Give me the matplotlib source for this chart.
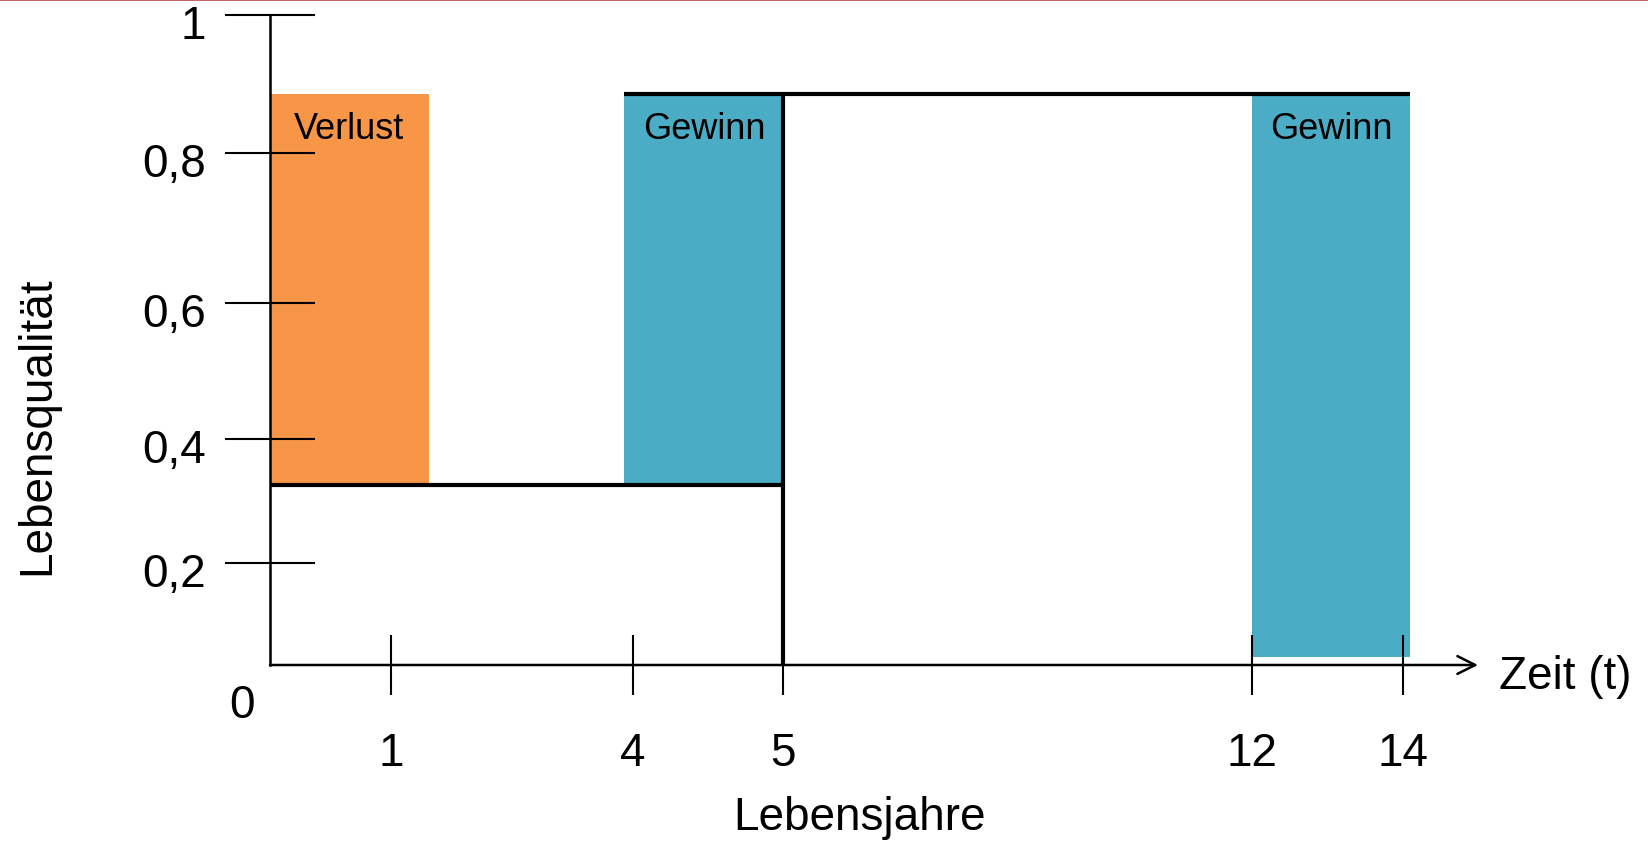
import matplotlib
matplotlib.use('Agg')
import matplotlib.pyplot as plt
from matplotlib.lines import Line2D
import numpy as np

plt.rcParams['font.family'] = ['Liberation Sans', 'DejaVu Sans']

# data
x_ticks = [1, 4, 5, 12, 14]
y_ticks = [0.2, 0.4, 0.6, 0.8, 1.0]
y_tick_labels = ['0,2', '0,4', '0,6', '0,8', '1']

block_labels = ['Verlust', 'Gewinn', 'Gewinn']
block_start = [0, 3.9, 12]
block_end = [1.47, 5, 14.1]
block_low = [0.325, 0.325, 0.015]
block_high = [0.885, 0.885, 0.885]
block_colors = ['#f79646', '#4bacc6', '#4bacc6']

low_x = [0, 5]
low_y = [0.325, 0.325]
drop_x = [5, 5]
drop_y = [0.0, 0.885]
high_x = [3.9, 14.1]
high_y = [0.885, 0.885]

# the schematic axes are not evenly spaced: piecewise linear scales
X_SRC = [0, 1, 4, 5, 12, 14]
X_DST = [0, 121, 363, 514, 983, 1134]
Y_SRC = [0, 0.2, 0.4, 0.6, 0.8, 1.0]
Y_DST = [0, 102, 226, 362, 512, 650]


def piecewise(src, dst):
    src = np.asarray(src, float)
    dst = np.asarray(dst, float)
    lo_slope = (dst[1] - dst[0]) / (src[1] - src[0])
    hi_slope = (dst[-1] - dst[-2]) / (src[-1] - src[-2])

    def f(v):
        v = np.asarray(v, float)
        out = np.interp(v, src, dst)
        out = np.where(v < src[0], dst[0] + (v - src[0]) * lo_slope, out)
        out = np.where(v > src[-1], dst[-1] + (v - src[-1]) * hi_slope, out)
        return out
    return f


fx, fx_inv = piecewise(X_SRC, X_DST), piecewise(X_DST, X_SRC)
fy, fy_inv = piecewise(Y_SRC, Y_DST), piecewise(Y_DST, Y_SRC)

W, H = 1649, 845
fig = plt.figure(figsize=(W / 100, H / 100), dpi=100)
ax = fig.add_axes([270 / W, (H - 666) / H, (1478 - 270) / W, (666 - 15.7) / H])
ax.set_xscale('function', functions=(fx, fx_inv))
ax.set_yscale('function', functions=(fy, fy_inv))
ax.set_xlim(0, 15)
ax.set_ylim(0, 1)

for s in ['top', 'right', 'bottom']:
    ax.spines[s].set_visible(False)
ax.spines['left'].set_linewidth(1.8)
ax.spines['left'].set_bounds(0, 1)

# blocks
for lab, x0, x1, y0, y1, c in zip(block_labels, block_start, block_end, block_low, block_high, block_colors):
    ax.bar(x0, y1 - y0, width=x1 - x0, bottom=y0, align='edge', color=c, lw=0, zorder=1)
    xm = float(fx_inv((fx(x0) + fx(x1)) / 2))
    ax.annotate(lab, xy=(xm, y1), xytext=(0, -25), textcoords='offset points',
                ha='center', va='center', fontsize=26, zorder=4)

ax.plot(low_x, low_y, color='black', lw=3, solid_capstyle='butt', zorder=3)
ax.plot(drop_x, drop_y, color='black', lw=3, solid_capstyle='butt', zorder=3)
ax.plot(high_x, high_y, color='black', lw=3, solid_capstyle='butt', zorder=3)

# x axis with arrow
ax.annotate('', xy=(15, 0), xytext=(0, 0),
            arrowprops=dict(arrowstyle='->', lw=1.8, mutation_scale=32, shrinkA=0, shrinkB=0, color='black'),
            annotation_clip=False, zorder=2)
ax.annotate('Zeit (t)', xy=(15, 0), xytext=(15, -8), textcoords='offset points',
            ha='left', va='center', fontsize=33, annotation_clip=False)

ax.set_xticks(x_ticks)
ax.set_xticklabels([str(t) for t in x_ticks])
ax.tick_params(axis='x', direction='inout', length=43, width=1.5, pad=26, labelsize=33)
ax.xaxis.set_minor_locator(plt.NullLocator())

ax.set_yticks(y_ticks)
ax.set_yticklabels([])
ax.tick_params(axis='y', direction='inout', length=65, width=1.5)
ax.yaxis.set_minor_locator(plt.NullLocator())
for v, lab in zip(y_ticks, y_tick_labels):
    ax.annotate(lab, xy=(0, v), xytext=(-46, -8), textcoords='offset points',
                ha='right', va='center', fontsize=33, annotation_clip=False)
ax.annotate('0', xy=(0, 0), xytext=(-20, -29), textcoords='offset points',
            ha='center', va='center', fontsize=33, annotation_clip=False)

ax.set_xlabel('Lebensjahre', fontsize=33)
ax.xaxis.set_label_coords(0.488, -0.234)
ax.xaxis.label.set_va('center')
ax.set_ylabel('Lebensqualität', fontsize=33)
ax.yaxis.set_label_coords(-0.193, 0.369)
ax.yaxis.label.set_va('center')

# thin red rule at the top of the slide
fig.add_artist(Line2D([0, 1], [1 - 0.8 / H, 1 - 0.8 / H], color='#b84a4a', lw=1.2, transform=fig.transFigure))

fig.savefig('out.png', dpi=100)
